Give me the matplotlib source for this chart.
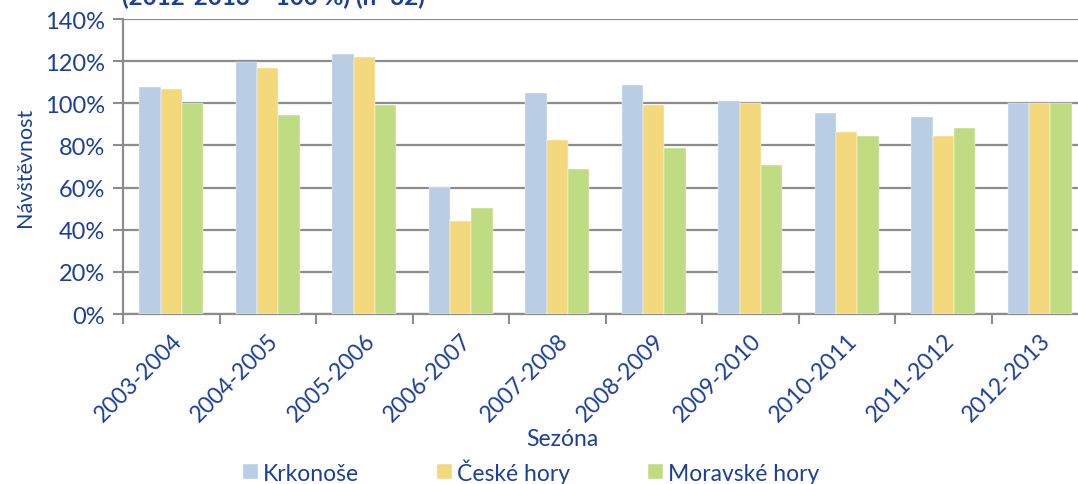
import matplotlib
matplotlib.use("Agg")
import matplotlib.pyplot as plt
import numpy as np
from matplotlib.ticker import FuncFormatter, FixedLocator

seasons = ["2003-2004", "2004-2005", "2005-2006", "2006-2007", "2007-2008",
           "2008-2009", "2009-2010", "2010-2011", "2011-2012", "2012-2013"]
krkonose = [107.5, 119.5, 123.2, 60.5, 104.7, 108.5, 101.1, 95.5, 93.6, 100.0]
ceske_hory = [106.6, 116.7, 122.2, 43.9, 82.6, 99.2, 100.3, 86.2, 84.3, 100.0]
moravske_hory = [100.3, 94.6, 99.3, 50.2, 68.7, 79.0, 70.6, 84.5, 88.1, 100.0]
series_names = ["Krkonoše", "České hory", "Moravské hory"]
title_text = "(2012-2013 = 100 %) (n=32)"

colors = ["#B9CDE5", "#F4D97C", "#C0DC82"]
txt = "#1B3F9A"
grid = "#8C8C8C"

plt.rcParams['font.family'] = ['Lato', 'DejaVu Sans']

fig = plt.figure(figsize=(10.78, 4.85), dpi=100)
ax = fig.add_axes([123/1078, 1-315/485, (1088-123)/1078, (315-20)/485])

x = np.arange(len(seasons))
w = 0.222
for i, (vals, name) in enumerate(zip([krkonose, ceske_hory, moravske_hory], series_names)):
    ax.bar(x + (i-1)*w, vals, width=w, color=colors[i], label=name, zorder=3,
           edgecolor='white', linewidth=0.3)

ax.set_xlim(-0.5, len(seasons)-0.5)
ax.set_ylim(0, 140)
ax.set_yticks(np.arange(0, 141, 20))
ax.yaxis.set_major_formatter(FuncFormatter(lambda v, p: f"{int(v)}%"))
ax.yaxis.grid(True, color=grid, linewidth=1.6, zorder=0)
ax.set_axisbelow(True)

ax.set_xticks(x)
ax.set_xticklabels(seasons, rotation=45, ha='right', rotation_mode='anchor')
ax.xaxis.set_minor_locator(FixedLocator(np.arange(-0.5, len(seasons), 1.0)))
ax.tick_params(axis='x', which='major', length=0, pad=11, labelsize=16.5, labelcolor=txt)
ax.tick_params(axis='x', which='minor', length=7, width=1.5, color=grid, direction='out')
ax.tick_params(axis='y', length=7, width=1.5, color=grid, labelsize=17, labelcolor=txt, pad=6)

for s in ['top', 'right']:
    ax.spines[s].set_visible(False)
for s in ['left', 'bottom']:
    ax.spines[s].set_color(grid)
    ax.spines[s].set_linewidth(1.6)

ax.set_ylabel("Návštěvnost", color=txt, fontsize=15.5, labelpad=4)
ax.yaxis.set_label_coords(-88/965, 0.5)
fig.text(562/1078, 1-440/485, "Sezóna", color=txt, fontsize=16.5, ha='center', va='center')

handles, labels = ax.get_legend_handles_labels()
leg = fig.legend(handles, labels, loc='center left', bbox_to_anchor=(243/1078, 1-472/485),
                 ncol=3, frameon=False, fontsize=16.5, handlelength=0.65, handleheight=0.65,
                 handletextpad=0.22, columnspacing=3.4, borderaxespad=0, borderpad=0)
for t in leg.get_texts():
    t.set_color(txt)

fig.text(122/1078, 1-5/485, title_text, color=txt, fontsize=17.5, fontweight='bold',
         ha='left', va='baseline')

fig.savefig("out.png", dpi=100)
